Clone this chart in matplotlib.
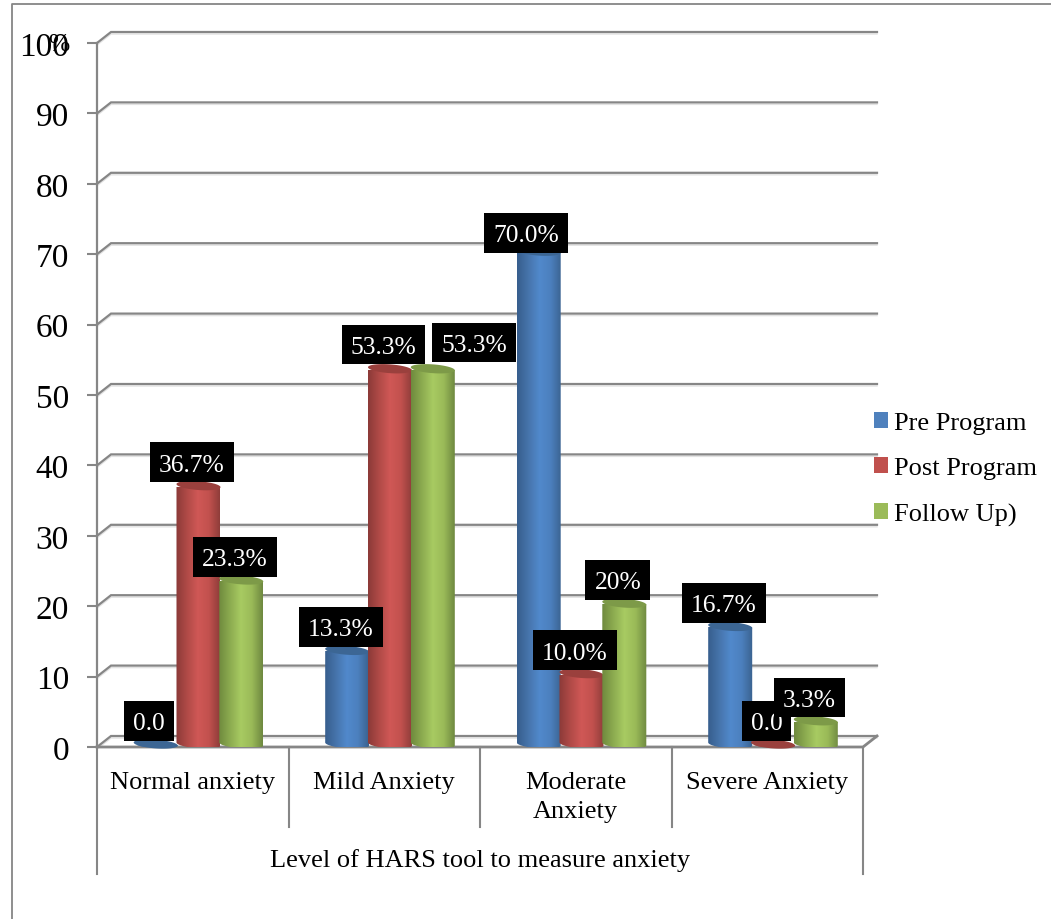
import numpy as np
import matplotlib
matplotlib.use("Agg")
import matplotlib.pyplot as plt
from matplotlib.colors import LinearSegmentedColormap
from matplotlib.lines import Line2D
from matplotlib.patches import Patch, Polygon
from matplotlib.path import Path
from matplotlib.transforms import Affine2D

plt.rcParams["font.family"] = ["Liberation Serif", "DejaVu Serif"]

# Chart data
categories = ["Normal anxiety", "Mild Anxiety", "Moderate\nAnxiety", "Severe Anxiety"]
series_names = ["Pre Program", "Post Program", "Follow Up)"]
pre_program = [0.0, 13.3, 70.0, 16.7]
post_program = [36.7, 53.3, 10.0, 0.0]
follow_up = [23.3, 53.3, 20.0, 3.3]
pre_labels = ["0.0", "13.3%", "70.0%", "16.7%"]
post_labels = ["36.7%", "53.3%", "10.0%", "0.0"]
follow_labels = ["23.3%", "53.3%", "20%", "3.3%"]
y_ticks = [0, 10, 20, 30, 40, 50, 60, 70, 80, 90, 100]
axis_title = "Level of HARS tool to measure anxiety"

# Styling
W, H, DPI = 1051, 920, 100
GREY = "#868686"
FACE = ["#4F81BD", "#C0504D", "#9BBB59"]
RAMPS = [
    ["#375E8D", "#4674AB", "#5189CC", "#4C80BE", "#3A628F"],
    ["#8B3A38", "#B04A47", "#D05856", "#C2514E", "#8F3D3A"],
    ["#6F8A3E", "#8CAB50", "#A8CB62", "#9ABA58", "#6E8940"],
]
CAP = ["#3C6694", "#9A403D", "#7D9A48"]
DEPTH_X, DEPTH_Y = 14, 11          # pixel offset of the back wall
BAR_W = 44                         # cylinder width, pixels
CAP_B, CAP_SHIFT, CAP_TILT = 4.4, 3, -0.07
LABEL_DX, LABEL_DY = -6.5, 6
LABEL_NUDGES = {(0, 2): (-12.5, 1), (1, 1): (-6.5, 7), (2, 1): (41.5, 9)}

fig = plt.figure(figsize=(W / DPI, H / DPI), dpi=DPI, facecolor="white")
ax = fig.add_axes([97 / W, 1 - 748 / H, 766 / W, 704 / H])
ax.set_xlim(0, 4)
ax.set_ylim(0, 100)
ax.patch.set_visible(False)

PX_X = 4 / 766
PX_Y = 100 / 704


def shifted(dx=0, dy=0):
    """Data transform moved by a number of image pixels (dy counts downward)."""
    return ax.transData + Affine2D().translate(dx, -dy)


def label_box(x0, y0, width, height, mutation_size):
    """Square label box that sits a little high around its text."""
    pad = 0.35 * mutation_size
    lift = 0.09 * mutation_size
    left, right = x0 - pad, x0 + width + pad
    bottom, top = y0 - pad + lift, y0 + height + pad + lift
    return Path([(left, bottom), (right, bottom), (right, top), (left, top), (left, bottom)],
                closed=True)


# Outer chart border, open on the right and at the bottom
fig.add_artist(Line2D([12 / W, 12 / W, 1], [0, 1 - 5 / H, 1 - 5 / H],
                      transform=fig.transFigure, color=GREY, lw=1.3))

# Back wall gridlines with their connectors to the front axis
for v in y_ticks:
    for off, col, lw in ((2, "#E2E2E2", 1.0), (0, GREY, 1.6)):
        back = shifted(0, off)
        ax.plot([0, DEPTH_X * PX_X, 4 + DEPTH_X * PX_X],
                [v, v + DEPTH_Y * PX_Y, v + DEPTH_Y * PX_Y],
                color=col, lw=lw, transform=back, clip_on=False, zorder=1,
                solid_joinstyle="miter")

# Floor edge
ax.plot([0, 4, 4 + DEPTH_X * PX_X], [0, 0, DEPTH_Y * PX_Y], color=GREY, lw=2.0,
        clip_on=False, zorder=2, solid_joinstyle="miter")

# Multi-level category separators under the axis
for i in range(5):
    depth = 127 if i in (0, 4) else 80
    ax.plot([i, i], [0, -depth * PX_Y], color=GREY, lw=1.5, clip_on=False, zorder=2)


def cylinder(center, value, idx, z):
    """Shaded cylinder standing on the floor, built from data coordinates."""
    a = (BAR_W / 2) * PX_X
    tt = np.linspace(0, np.pi, 60)

    def rim(level, angles):
        return np.column_stack([
            center + a * np.cos(angles),
            level + (CAP_SHIFT + CAP_B * np.sin(angles)
                     + CAP_TILT * (BAR_W / 2) * np.cos(angles)) * PX_Y,
        ])

    upper = rim(value, tt)
    lower = rim(0, tt + np.pi)
    outline = Polygon(np.vstack([upper, lower]), closed=True, transform=ax.transData)
    cmap = LinearSegmentedColormap.from_list("shade", RAMPS[idx])
    shade = np.linspace(0, 1, 128)[None, :]
    im = ax.imshow(shade, cmap=cmap, aspect="auto", interpolation="bilinear",
                   extent=(center - a, center + a, upper[:, 1].min(), lower[:, 1].min()),
                   zorder=z, clip_on=True)
    im.set_clip_path(outline)
    ax.add_patch(Polygon(rim(value, np.linspace(0, 2 * np.pi, 120)), closed=True,
                         facecolor=CAP[idx], edgecolor="none", zorder=z + 0.1,
                         clip_on=False))


all_values = [pre_program, post_program, follow_up]
all_labels = [pre_labels, post_labels, follow_labels]
centers = np.arange(len(categories)) + 0.5 + 0.03

for s, values in enumerate(all_values):
    for c, value in enumerate(values):
        cylinder(centers[c] + (s - 1) * 0.2235, value, s, 3 + s + c * 0.01)

# Value labels on black boxes, above every cylinder
for s, (values, labels) in enumerate(zip(all_values, all_labels)):
    for c, (value, text) in enumerate(zip(values, labels)):
        dx, dy = LABEL_NUDGES.get((s, c), (LABEL_DX, LABEL_DY))
        ax.annotate(text, xy=(centers[c] + (s - 1) * 0.2235, value),
                    xytext=(dx * 0.72, (dy + 7) * 0.72), textcoords="offset points",
                    ha="center", va="bottom", color="white", fontsize=18.4,
                    annotation_clip=False, zorder=10 + s,
                    bbox=dict(boxstyle=label_box, facecolor="black", edgecolor="none"))

# Axes, ticks and tick labels
for name in ("top", "right", "bottom"):
    ax.spines[name].set_visible(False)
ax.spines["left"].set(color=GREY, linewidth=1.6, zorder=2)
ax.set_yticks(y_ticks)
ax.tick_params(axis="y", length=7.2, width=1.5, color=GREY, pad=13, labelsize=24)
ax.set_xticks(np.arange(len(categories)) + 0.5, categories)
ax.tick_params(axis="x", length=0, pad=17.3, labelsize=19)
for tick in ax.get_xticklabels():
    tick.set_linespacing(1.42)

# The unit sign sits on top of the highest tick label
ax.text(0, 100, "%", transform=shifted(-28, 1), ha="right", va="center",
        fontsize=18.4, clip_on=False)

ax.text(2, 0, axis_title, transform=shifted(0, 113), ha="center", va="center",
        fontsize=19, clip_on=False)

handles = [Patch(facecolor=col, edgecolor="none", label=name)
           for col, name in zip(FACE, series_names)]
fig.legend(handles=handles, loc="upper left", bbox_to_anchor=(874 / W, 1 - 413 / H),
           frameon=False, fontsize=19, borderpad=0, borderaxespad=0,
           handlelength=0.53, handleheight=0.53, handletextpad=0.22, labelspacing=0.875)

fig.savefig("out.png", dpi=DPI, facecolor="white")
